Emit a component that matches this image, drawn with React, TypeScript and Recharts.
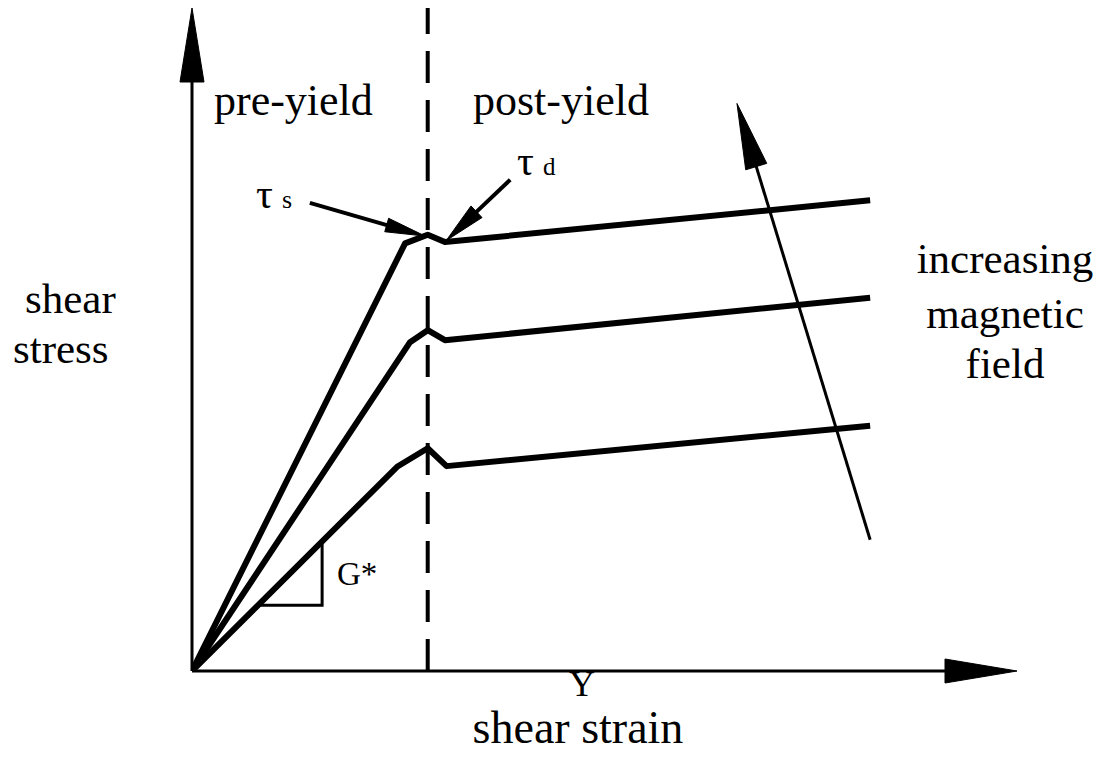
import React from "react";
import { LineChart, Line, XAxis, YAxis, ReferenceLine } from "recharts";

// strain (x, yield strain = 1) vs stress (y)
const weakField = [
  { x: 0, y: 0 },
  { x: 0.87, y: 3.08 },
  { x: 1.0, y: 3.36 },
  { x: 1.08, y: 3.09 },
  { x: 2.877, y: 3.7 },
];
const mediumField = [
  { x: 0, y: 0 },
  { x: 0.925, y: 4.96 },
  { x: 1.0, y: 5.14 },
  { x: 1.073, y: 4.99 },
  { x: 2.877, y: 5.63 },
];
const strongField = [
  { x: 0, y: 0 },
  { x: 0.904, y: 6.45 },
  { x: 1.0, y: 6.58 },
  { x: 1.073, y: 6.47 },
  { x: 2.877, y: 7.1 },
];
const slopeTriangle = [
  { x: 0.28, y: 0.99 },
  { x: 0.552, y: 0.99 },
  { x: 0.552, y: 1.95 },
];
const yieldStrain = 1;
const xDomain: [number, number] = [0, 3.5];
const yDomain: [number, number] = [0, 10];

const tauSArrow = [{ x: 0.5, y: 7.06 }, { x: 0.989, y: 6.56 }];
const tauDArrow = [{ x: 1.35, y: 7.41 }, { x: 1.078, y: 6.49 }];
const fieldArrow = [{ x: 2.877, y: 1.98 }, { x: 2.312, y: 8.56 }];
const xAxisArrow = [{ x: 0, y: 0 }, { x: 3.5, y: 0 }];
const yAxisArrow = [{ x: 0, y: 0 }, { x: 0, y: 10 }];

const arrowShape = (headLen: number, halfW: number, sw: number) => (p: any) => {
  const { x1, y1, x2, y2 } = p;
  const dx = x2 - x1;
  const dy = y2 - y1;
  const len = Math.sqrt(dx * dx + dy * dy) || 1;
  const ux = dx / len;
  const uy = dy / len;
  const bx = x2 - ux * headLen;
  const by = y2 - uy * headLen;
  const nx = -uy;
  const ny = ux;
  const pts = `${x2},${y2} ${bx + nx * halfW},${by + ny * halfW} ${bx - nx * halfW},${by - ny * halfW}`;
  return (
    <g>
      <line x1={x1} y1={y1} x2={bx + ux * 2} y2={by + uy * 2} stroke="#000" strokeWidth={sw} />
      <polygon points={pts} fill="#000" stroke="#000" strokeWidth={1} strokeLinejoin="miter" />
    </g>
  );
};

const serif = "'Liberation Serif', 'Times New Roman', serif";

export default function App() {
  return (
    <div style={{ position: "relative", width: 1090, height: 746, background: "#fff" }}>
      <LineChart width={1090} height={746} margin={{ top: 0, left: 184, right: 81, bottom: 83 }}>
        <XAxis type="number" dataKey="x" domain={xDomain} hide allowDataOverflow />
        <YAxis type="number" dataKey="y" domain={yDomain} hide allowDataOverflow />
        <ReferenceLine x={yieldStrain} stroke="#000" strokeWidth={4} strokeDasharray="32 17" />
        <ReferenceLine segment={xAxisArrow} shape={arrowShape(72, 12, 3)} />
        <ReferenceLine segment={yAxisArrow} shape={arrowShape(74, 12, 3)} />
        <ReferenceLine segment={fieldArrow} shape={arrowShape(66, 11, 3)} />
        <ReferenceLine segment={tauSArrow} shape={arrowShape(40, 7, 4)} />
        <ReferenceLine segment={tauDArrow} shape={arrowShape(42, 8, 4)} />
        <Line data={slopeTriangle} dataKey="y" type="linear" stroke="#000" strokeWidth={3} dot={false} isAnimationActive={false} />
        <Line data={weakField} dataKey="y" type="linear" stroke="#000" strokeWidth={6} strokeLinejoin="round" dot={false} isAnimationActive={false} />
        <Line data={mediumField} dataKey="y" type="linear" stroke="#000" strokeWidth={6} strokeLinejoin="round" dot={false} isAnimationActive={false} />
        <Line data={strongField} dataKey="y" type="linear" stroke="#000" strokeWidth={6} strokeLinejoin="round" dot={false} isAnimationActive={false} />
      </LineChart>
      <svg width={1090} height={746} overflow="visible" style={{ position: "absolute", left: 0, top: 0, pointerEvents: "none" }} fontFamily={serif} fill="#000">
        <text x={206} y={107} fontSize={44}>pre-yield</text>
        <text x={465} y={107} fontSize={44}>post-yield</text>
        <text x={248} y={200} fontSize={42}>τ</text>
        <text x={274} y={200} fontSize={26}>s</text>
        <text x={509} y={167} fontSize={42}>τ</text>
        <text x={535} y={167} fontSize={25}>d</text>
        <text x={17} y={305} fontSize={43}>shear</text>
        <text x={5} y={355} fontSize={43}>stress</text>
        <text x={997} y={265} fontSize={43} textAnchor="middle">increasing</text>
        <text x={997} y={320} fontSize={43} textAnchor="middle">magnetic</text>
        <text x={997} y={370} fontSize={43} textAnchor="middle">field</text>
        <text x={329} y={577} fontSize={33}>G*</text>
        <text x={574} y={688} fontSize={36} textAnchor="middle">Y</text>
        <text x={570} y={735} fontSize={46} textAnchor="middle">shear strain</text>
      </svg>
    </div>
  );
}
